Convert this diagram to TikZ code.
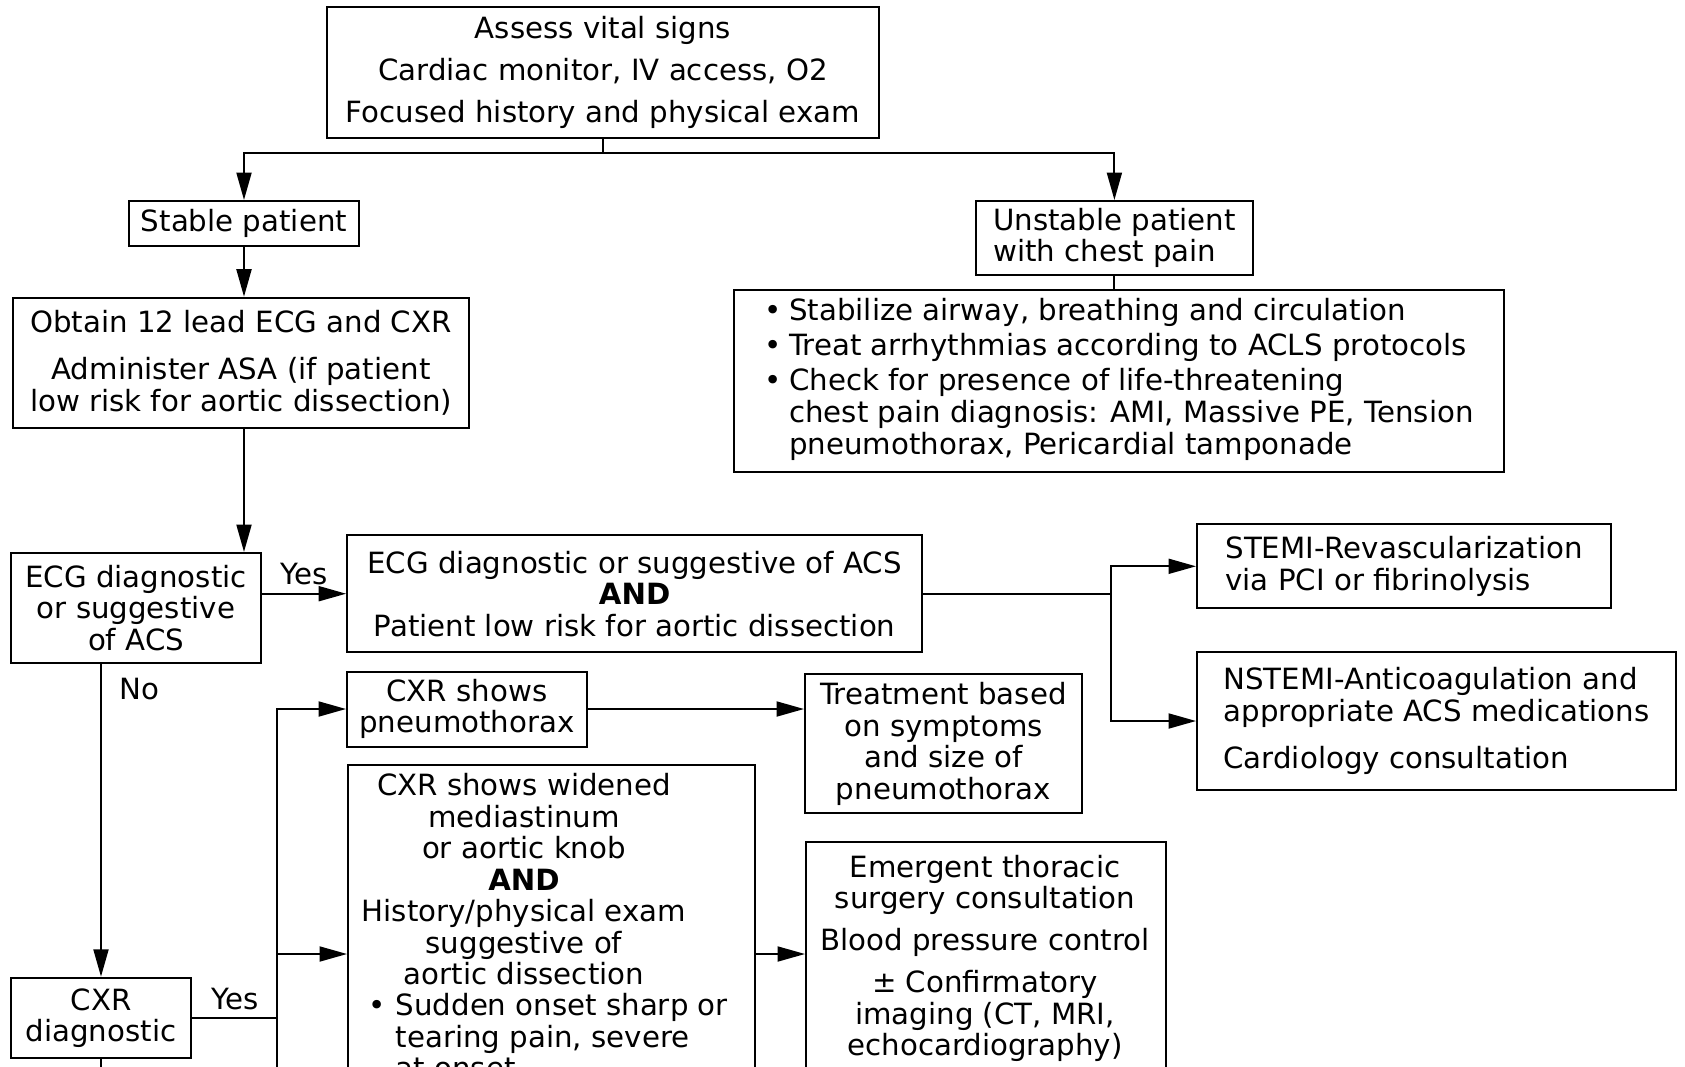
\documentclass[tikz,border=0pt]{standalone}
\usepackage{fontspec}
\setmainfont{DejaVu Sans}
\usetikzlibrary{arrows.meta, positioning, calc}
\tikzset{
    flow_box/.style={
        rectangle, draw=black, line width=0.8pt, fill=white,
        align=center, inner sep=0pt,
        font=\fontsize{11.7}{12.6}\selectfont
    },
    flow_text/.style={
        inner sep=0pt, align=center, font=\fontsize{11.7}{12.6}\selectfont
    },
    flow_arrow/.style={
        -{Triangle[length=11pt, width=6pt]}, line width=0.8pt, draw=black
    },
    flow_line/.style={
        line width=0.8pt, draw=black
    },
    lbl/.style={
        font=\fontsize{11.7}{12.6}\selectfont, inner sep=3pt
    }
}

\begin{document}
\begin{tikzpicture}[x=0.4pt, y=-0.4pt]
    \useasboundingbox (0,0) rectangle (1685,1066);
    \clip (0,0) rectangle (1685,1066);

    % first assessment
    \node[flow_box, minimum width=220.8pt, minimum height=52pt] (assess) at (603,72.5)
        {Assess vital signs\\[4.2pt]Cardiac monitor, IV access, O2\\[4.2pt]Focused history and physical exam};
    \node[flow_box, minimum width=92pt, minimum height=18pt] (stable) at (244,223.5) {Stable patient};
    \node[flow_box, align=left, minimum width=110.8pt, minimum height=29.6pt] (unstable) at (1114.4,238)
        {Unstable patient\\with chest pain};
    \node[flow_box, minimum width=182.4pt, minimum height=52pt] (obtain) at (241,362.7)
        {Obtain 12 lead ECG and CXR\\[6.4pt]Administer ASA (if patient\\low risk for aortic dissection)};
    \node[flow_box, align=left, minimum width=308pt, minimum height=72.8pt] (stabilize) at (1119,381)
        {\begin{tabular}{@{}l@{\hspace{3pt}}l@{}}
         •&Stabilize airway, breathing and circulation\\[1.4pt]
         •&Treat arrhythmias according to ACLS protocols\\[1.4pt]
         •&Check for presence of life-threatening\\
         &chest pain diagnosis: AMI, Massive PE, Tension\\
         &pneumothorax, Pericardial tamponade
         \end{tabular}};

    % ECG branch
    \node[flow_box, minimum width=100pt, minimum height=44pt] (ecgdiag) at (136,608)
        {ECG diagnostic\\or suggestive\\of ACS};
    \node[flow_box, minimum width=230pt, minimum height=46.8pt] (ecgacs) at (634.6,593.7)
        {ECG diagnostic or suggestive of ACS\\\textbf{AND}\\Patient low risk for aortic dissection};
    \node[flow_box, align=left, minimum width=165.6pt, minimum height=33.6pt] (stemi) at (1404,566.3)
        {STEMI-Revascularization\\via PCI or fibrinolysis};
    \node[flow_box, align=left, minimum width=191.6pt, minimum height=55pt] (nstemi) at (1436.5,721)
        {NSTEMI-Anticoagulation and\\appropriate ACS medications\\[6.4pt]Cardiology consultation};

    % CXR branch
    \node[flow_box, minimum width=72.2pt, minimum height=32.2pt] (cxrdiag) at (101,1018) {CXR\\diagnostic};
    \node[flow_box, minimum width=96pt, minimum height=30pt] (pneumo) at (467,709) {CXR shows\\pneumothorax};
    \node[flow_box, minimum width=110.8pt, minimum height=55.8pt] (treat) at (943.5,743.7)
        {Treatment based\\on symptoms\\and size of\\pneumothorax};
    \node[flow_box, anchor=north west, minimum width=162.8pt, minimum height=150pt] (widened) at (347,764) {};
    \node[flow_text, anchor=north] (widened_top) at (524,773)
        {CXR shows widened\\mediastinum\\or aortic knob\\\textbf{AND}\\History/physical exam\\suggestive of\\aortic dissection};
    \node[flow_text, anchor=north west] (widened_bul) at (368,993)
        {\begin{tabular}{@{}l@{\hspace{4pt}}l@{}}•&Sudden onset sharp or\\&tearing pain, severe\\&at onset\end{tabular}};
    \node[flow_box, anchor=north west, minimum width=144pt, minimum height=150pt] (emergent) at (805,841.4) {};
    \node[flow_text, anchor=north] (emergent_txt) at (985,854.5)
        {Emergent thoracic\\surgery consultation\\[4.2pt]Blood pressure control\\[4.2pt]± Confirmatory\\imaging (CT, MRI,\\echocardiography)};

    % connectors
    \coordinate (split) at (603,152.6);
    \draw[flow_line] (assess.south) -- (split);
    \draw[flow_arrow] (split) -| (stable.north);
    \draw[flow_arrow] (split) -| (unstable.north);
    \draw[flow_arrow] (stable.south) -- (obtain.north -| stable.south);
    \draw[flow_line] (unstable.south) -- (stabilize.north -| unstable.south);
    \draw[flow_arrow] (obtain.south -| stable.south) -- (ecgdiag.north -| stable.south);

    \draw[flow_arrow] (ecgdiag.east |- ecgacs.west) -- (ecgacs.west) node[lbl, midway, above] {Yes};
    \coordinate (acs) at (1111,593.7);
    \draw[flow_line] (ecgacs.east) -- (acs);
    \draw[flow_arrow] (acs) |- (stemi.west);
    \draw[flow_arrow] (acs) |- (nstemi.west);

    \draw[flow_arrow] (ecgdiag.south -| cxrdiag.north) -- (cxrdiag.north) node[lbl, pos=0.08, right=4pt] {No};
    \coordinate (cxr_trunk) at (277,1018);
    \coordinate (chart_bottom) at (0,1080);
    \draw[flow_line] (cxrdiag.east) -- (cxr_trunk) node[lbl, midway, above] {Yes};
    \draw[flow_arrow] (cxr_trunk) |- (pneumo.west);
    \draw[flow_line] (cxr_trunk) -- (cxr_trunk |- chart_bottom);
    \coordinate (widened_in) at (347,954);
    \coordinate (widened_out) at (754.4,954);
    \draw[flow_arrow] (cxr_trunk |- widened_in) -- (widened_in);
    \draw[flow_arrow] (widened_out) -- (widened_out -| emergent.west);
    \draw[flow_arrow] (pneumo.east) -- (pneumo.east -| treat.west);
    \draw[flow_line] (cxrdiag.south) -- (cxrdiag.south |- chart_bottom);

\end{tikzpicture}
\end{document}
